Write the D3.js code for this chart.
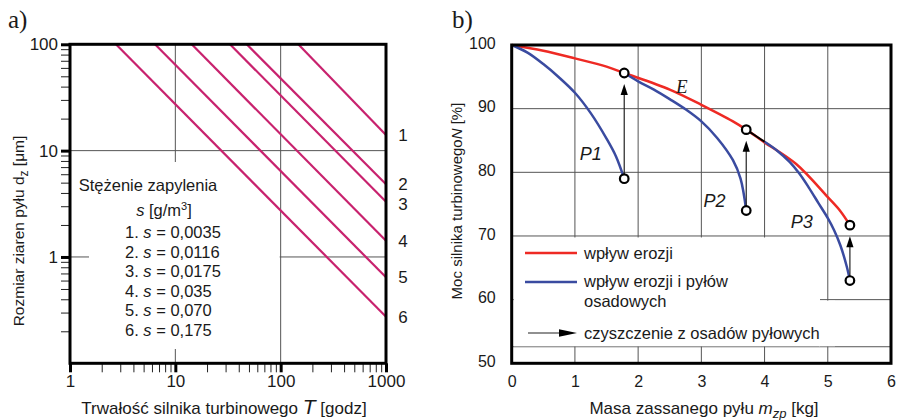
<html>
<head>
<script src="https://cdn.jsdelivr.net/npm/d3@7"></script>
<style type="text/css">
    body { margin:0; background:#fff; }
    text { font-family: "Liberation Sans", Arial, sans-serif; fill:#1a1a1a; }
    line.grid { stroke:#555; stroke-width:1; }
    rect.frame { fill:none; stroke:#000; stroke-width:3; }
</style>
</head>
<body>
<svg id="chart"></svg>
<script>
// ---- panel a: dust grain size vs engine life (log-log) ----
var concNames  = ["1", "2", "3", "4", "5", "6"];
var concValues = ["0,0035", "0,0116", "0,0175", "0,035", "0,070", "0,175"];
var lineStartT = [147, 47.6, 33.0, 14.3, 6.41, 2.73];      // T [godz] where d = 100 um
var lineEndD   = [14.0, 4.82, 3.31, 1.42, 0.644, 0.274];   // d [um] at T = 1000 godz
var aTicksX = [1, 10, 100, 1000];
var aTicksY = [1, 10, 100];
var aGridX = [10, 100];
var aGridY = [1, 10];

// ---- panel b: engine power vs ingested dust mass ----
var massE  = [0, 0.5, 1, 1.5, 1.78, 2.5, 3, 3.5, 3.71, 4, 4.5, 5, 5.2, 5.35];
var powerE = [100, 99.1, 97.9, 96.6, 95.6, 93.0, 90.6, 88.0, 86.7, 84.7, 81.3, 76.1, 73.9, 71.7];
var massP1  = [0, 0.25, 0.5, 0.75, 1, 1.25, 1.5, 1.65, 1.78];
var powerP1 = [100, 98.8, 97.0, 94.9, 92.5, 89.3, 85.3, 82.5, 79.0];
var massP2  = [1.78, 2, 2.25, 2.5, 2.75, 3, 3.25, 3.5, 3.62, 3.71];
var powerP2 = [95.6, 94.3, 93.0, 91.5, 89.9, 88.0, 85.4, 81.9, 79.0, 74.0];
var massP3  = [4.0, 4.2, 4.4, 4.55, 4.7, 4.85, 5.0, 5.1, 5.2, 5.3, 5.35];
var powerP3 = [84.8, 83.4, 81.6, 79.8, 77.6, 75.2, 72.8, 70.9, 68.5, 65.2, 63.0];
var massK  = [3.71, 4.0];
var powerK = [86.7, 84.8];
var cleanMass = [1.78, 3.71, 5.35];
var cleanFrom = [79.0, 74.0, 63.0];
var cleanTo   = [95.6, 86.7, 71.7];
var curveNames = ["E", "P1", "P2", "P3"];
var bTicksX = [0, 1, 2, 3, 4, 5, 6];
var bTicksY = [50, 60, 70, 80, 90, 100];
var bGridX = [1, 2, 3, 4, 5];
var bGridY = [52.6, 60, 70, 80, 90];

var svg = d3.select("#chart").attr("width", 898).attr("height", 420);

function minorLog(lo, hi) {
    var out = [];
    for (var p = lo; p < hi; p *= 10)
        for (var k = 2; k <= 9; k++) out.push(p * k);
    return out;
}

// ================= panel a =================
var ax = d3.scaleLog().domain([1, 1000]).range([70, 386]);
var ay = d3.scaleLog().domain([0.1, 100]).range([363.3, 44.3]);
var ga = svg.append("g");

ga.selectAll(".gx").data(aGridX).enter().append("line").attr("class", "grid")
    .attr("x1", d => ax(d)).attr("x2", d => ax(d))
    .attr("y1", ay(0.1)).attr("y2", ay(100));
ga.selectAll(".gy").data(aGridY).enter().append("line").attr("class", "grid")
    .attr("x1", ax(1)).attr("x2", ax(1000))
    .attr("y1", d => ay(d)).attr("y2", d => ay(d));

// legend background hides grid
ga.append("rect").attr("x", 89).attr("y", 162)
    .attr("width", ax(100) - 90).attr("height", 187).attr("fill", "#fff");

ga.selectAll(".conc").data(lineStartT).enter().append("line")
    .attr("x1", d => ax(d)).attr("y1", ay(100))
    .attr("x2", ax(1000)).attr("y2", (d, i) => ay(lineEndD[i]))
    .attr("stroke", "#c8226e").attr("stroke-width", 2.2);

// axes
var ayMinor = ga.append("g").attr("transform", "translate(" + ax(1) + ",0)")
    .call(d3.axisLeft(ay).tickValues(minorLog(0.1, 100)).tickSize(9).tickFormat(""));
var ayMajor = ga.append("g").attr("transform", "translate(" + ax(1) + ",0)")
    .call(d3.axisLeft(ay).tickValues(aTicksY).tickSize(9).tickPadding(3).tickFormat(d3.format("d")));
var axMinor = ga.append("g").attr("transform", "translate(0," + ay(0.1) + ")")
    .call(d3.axisBottom(ax).tickValues(minorLog(1, 1000)).tickSize(9).tickFormat(""));
var axMajor = ga.append("g").attr("transform", "translate(0," + ay(0.1) + ")")
    .call(d3.axisBottom(ax).tickValues(aTicksX).tickSize(9).tickPadding(3).tickFormat(d3.format("d")));
[ayMinor, ayMajor, axMinor, axMajor].forEach(function(g) {
    g.select(".domain").remove();
    g.selectAll("line").attr("stroke", "#222");
    g.selectAll("text").style("font-size", "17px").attr("fill", "#1a1a1a")
        .style("font-family", "'Liberation Sans', Arial, sans-serif");
});
ayMajor.selectAll("line").attr("stroke-width", 3).attr("stroke", "#000");
axMajor.selectAll("line").attr("stroke-width", 3).attr("stroke", "#000");

ga.append("rect").attr("class", "frame")
    .attr("x", ax(1)).attr("y", ay(100))
    .attr("width", ax(1000) - ax(1)).attr("height", ay(0.1) - ay(100));

// line numbers at the right
var lastY = -100;
concNames.forEach(function(n, i) {
    var y = Math.max(ay(lineEndD[i]), lastY + 20);
    lastY = y;
    ga.append("text").attr("x", 403).attr("y", y).attr("dy", "0.36em")
        .attr("text-anchor", "middle").style("font-size", "17px").text(n);
});

// legend text
ga.append("text").attr("x", 148).attr("y", 191).attr("text-anchor", "middle")
    .style("font-size", "16.5px").text("Stężenie zapylenia");
var sh = ga.append("text").attr("x", 164).attr("y", 216).attr("text-anchor", "middle")
    .style("font-size", "16.5px");
sh.append("tspan").attr("font-style", "italic").text("s");
sh.append("tspan").text(" [g/m");
sh.append("tspan").attr("dy", -6).style("font-size", "11px").text("3");
sh.append("tspan").attr("dy", 6).text("]");
concValues.forEach(function(v, i) {
    var t = ga.append("text").attr("x", 125).attr("y", 238 + i * 19.5)
        .style("font-size", "16.5px");
    t.append("tspan").text(concNames[i] + ". ");
    t.append("tspan").attr("font-style", "italic").text("s");
    t.append("tspan").text(" = " + v);
});

// axis titles
var tA = ga.append("text").attr("x", 224).attr("y", 414).attr("text-anchor", "middle")
    .style("font-size", "17px");
tA.append("tspan").text("Trwałość silnika turbinowego ");
tA.append("tspan").attr("font-style", "italic").style("font-size", "21px").text("T");
tA.append("tspan").text(" [godz]");

var tAy = ga.append("text").attr("transform", "translate(24,231) rotate(-90)")
    .attr("text-anchor", "middle").style("font-size", "15.5px");
tAy.append("tspan").text("Rozmiar ziaren pyłu d");
tAy.append("tspan").attr("dy", 4).style("font-size", "12px").text("z");
tAy.append("tspan").attr("dy", -4).text(" [μm]");

ga.append("text").attr("x", 8).attr("y", 28)
    .style("font-size", "25px").style("font-family", "'Liberation Serif', serif").text("a)");

// ================= panel b =================
var bx = d3.scaleLinear().domain([0, 6]).range([511.7, 891]);
var by = d3.scaleLinear().domain([50, 100]).range([363.3, 45]);
var gb = svg.append("g");

gb.selectAll(".gx").data(bGridX).enter().append("line").attr("class", "grid")
    .attr("x1", d => bx(d)).attr("x2", d => bx(d))
    .attr("y1", by(50)).attr("y2", by(100));
gb.selectAll(".gy").data(bGridY).enter().append("line").attr("class", "grid")
    .attr("x1", bx(0)).attr("x2", bx(6))
    .attr("y1", d => by(d)).attr("y2", d => by(d));

// legend background
gb.append("rect").attr("x", bx(0) + 2).attr("y", by(70) + 1.5)
    .attr("width", 820 - bx(0) - 2).attr("height", by(52.6) - by(70) - 2).attr("fill", "#fff");
gb.append("rect").attr("x", 819).attr("y", by(60) + 1)
    .attr("width", 16).attr("height", by(52.6) - by(60) - 1.5).attr("fill", "#fff");

var line = d3.line().x(d => bx(d[0])).y(d => by(d[1])).curve(d3.curveCatmullRom.alpha(0.5));
function pairs(xs, ys) { return xs.map((x, i) => [x, ys[i]]); }

gb.append("path").attr("d", line(pairs(massE, powerE)))
    .attr("fill", "none").attr("stroke", "#ee2a24").attr("stroke-width", 2.5);
[[massP1, powerP1], [massP2, powerP2], [massP3, powerP3]].forEach(function(s) {
    gb.append("path").attr("d", line(pairs(s[0], s[1])))
        .attr("fill", "none").attr("stroke", "#3a4ba0").attr("stroke-width", 2.5);
});
gb.append("path").attr("d", line(pairs(massK, powerK)))
    .attr("fill", "none").attr("stroke", "#000").attr("stroke-width", 2);

// cleaning arrows
cleanMass.forEach(function(m, i) {
    var x = bx(m), yTop = by(cleanTo[i]), yBot = by(cleanFrom[i]);
    gb.append("line").attr("x1", x).attr("x2", x)
        .attr("y1", yBot - 4).attr("y2", yTop + 20)
        .attr("stroke", "#222").attr("stroke-width", 1.2);
    gb.append("polygon")
        .attr("points", [[x, yTop + 11], [x - 3.6, yTop + 22], [x + 3.6, yTop + 22]].join(" "))
        .attr("fill", "#000");
});
var circ = [];
cleanMass.forEach(function(m, i) { circ.push([m, cleanTo[i]]); circ.push([m, cleanFrom[i]]); });
gb.selectAll(".pt").data(circ).enter().append("circle")
    .attr("cx", d => bx(d[0])).attr("cy", d => by(d[1])).attr("r", 4.3)
    .attr("fill", "#fff").attr("stroke", "#000").attr("stroke-width", 2.2);

// curve labels
var labelPos = [[2.69, 93.5], [1.25, 82.9], [3.21, 75.5], [4.59, 72.3]];
curveNames.forEach(function(n, i) {
    var t = gb.append("text").attr("x", bx(labelPos[i][0])).attr("y", by(labelPos[i][1]))
        .attr("dy", "0.36em").attr("text-anchor", "middle")
        .attr("font-style", "italic").style("font-size", "18px").text(n);
    if (n == "E") t.style("font-family", "'Liberation Serif', serif").style("font-size", "19px");
});

// axes (labels only)
var byAxis = gb.append("g").attr("transform", "translate(" + bx(0) + ",0)")
    .call(d3.axisLeft(by).tickValues(bTicksY).tickSize(0).tickPadding(16).tickFormat(d3.format("d")));
var bxAxis = gb.append("g").attr("transform", "translate(0," + by(50) + ")")
    .call(d3.axisBottom(bx).tickValues(bTicksX).tickSize(0).tickPadding(12).tickFormat(d3.format("d")));
[byAxis, bxAxis].forEach(function(g) {
    g.select(".domain").remove();
    g.selectAll("text").style("font-size", "16px").attr("fill", "#1a1a1a")
        .style("font-family", "'Liberation Sans', Arial, sans-serif");
});
byAxis.selectAll("text").attr("dy", "0.2em");

gb.append("rect").attr("class", "frame")
    .attr("x", bx(0)).attr("y", by(100))
    .attr("width", bx(6) - bx(0)).attr("height", by(50) - by(100));

// legend
gb.append("line").attr("x1", 525).attr("x2", 577).attr("y1", 253).attr("y2", 253)
    .attr("stroke", "#ee2a24").attr("stroke-width", 2.5);
gb.append("line").attr("x1", 525).attr("x2", 577).attr("y1", 282).attr("y2", 282)
    .attr("stroke", "#3a4ba0").attr("stroke-width", 2.5);
gb.append("line").attr("x1", 528).attr("x2", 562).attr("y1", 333).attr("y2", 333)
    .attr("stroke", "#222").attr("stroke-width", 1.2);
gb.append("polygon").attr("points", "577,333 559,329.3 559,336.7").attr("fill", "#000");
var legTexts = [["wpływ erozji", 253], ["wpływ erozji i pyłów", 281],
                ["osadowych", 301], ["czyszczenie z osadów pyłowych", 333]];
legTexts.forEach(function(d) {
    gb.append("text").attr("x", 584).attr("y", d[1]).attr("dy", "0.36em")
        .style("font-size", "16.5px").text(d[0]);
});

// axis titles
var tB = gb.append("text").attr("x", 704).attr("y", 414).attr("text-anchor", "middle")
    .style("font-size", "17px");
tB.append("tspan").text("Masa zassanego pyłu ");
tB.append("tspan").attr("font-style", "italic").text("m");
tB.append("tspan").attr("font-style", "italic").attr("dy", 4).style("font-size", "13px").text("zp");
tB.append("tspan").attr("dy", -4).text(" [kg]");

var tBy = gb.append("text").attr("transform", "translate(462,201) rotate(-90)")
    .attr("text-anchor", "middle").style("font-size", "15px");
tBy.append("tspan").text("Moc silnika turbinowego");
tBy.append("tspan").attr("font-style", "italic").text("N");
tBy.append("tspan").text(" [%]");

gb.append("text").attr("x", 452).attr("y", 28)
    .style("font-size", "25px").style("font-family", "'Liberation Serif', serif").text("b)");
</script>
</body>
</html>
